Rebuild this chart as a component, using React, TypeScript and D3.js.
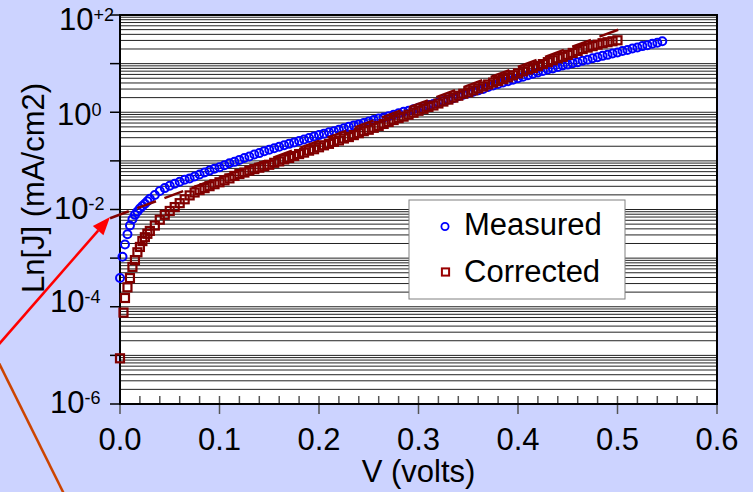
import React from "react";
import * as d3 from "d3";

// Current density vs bias; values are [V (volts), log10 J (mA/cm2)]
const measured: [number, number][] = [
  [0, -3.41], [0.0025, -2.97], [0.005, -2.72], [0.0075, -2.51], [0.01, -2.33], [0.0125, -2.2],
  [0.015, -2.11], [0.0175, -2.04], [0.02, -1.98], [0.0225, -1.93], [0.025, -1.88], [0.0275, -1.83],
  [0.03, -1.78], [0.035, -1.7], [0.04, -1.62], [0.045, -1.56], [0.05, -1.51], [0.055, -1.47],
  [0.06, -1.43], [0.065, -1.39], [0.07, -1.36], [0.075, -1.32], [0.08, -1.28], [0.085, -1.24],
  [0.09, -1.2], [0.095, -1.16], [0.1, -1.13], [0.105, -1.09], [0.11, -1.05], [0.115, -1.02],
  [0.12, -0.98], [0.125, -0.94], [0.13, -0.91], [0.135, -0.87], [0.14, -0.84], [0.145, -0.8],
  [0.15, -0.77], [0.155, -0.74], [0.16, -0.71], [0.165, -0.68], [0.17, -0.65], [0.175, -0.62],
  [0.18, -0.59], [0.185, -0.56], [0.19, -0.53], [0.195, -0.5], [0.2, -0.47], [0.205, -0.44],
  [0.21, -0.41], [0.215, -0.39], [0.22, -0.36], [0.225, -0.33], [0.23, -0.3], [0.235, -0.27],
  [0.24, -0.25], [0.245, -0.22], [0.25, -0.19], [0.255, -0.16], [0.26, -0.13], [0.265, -0.11],
  [0.27, -0.08], [0.275, -0.05], [0.28, -0.02], [0.285, 0.01], [0.29, 0.03], [0.295, 0.06],
  [0.3, 0.09], [0.305, 0.12], [0.31, 0.15], [0.315, 0.17], [0.32, 0.2], [0.325, 0.23],
  [0.33, 0.26], [0.335, 0.29], [0.34, 0.33], [0.345, 0.36], [0.35, 0.39], [0.355, 0.42],
  [0.36, 0.45], [0.365, 0.48], [0.37, 0.52], [0.375, 0.55], [0.38, 0.58], [0.385, 0.61],
  [0.39, 0.64], [0.395, 0.67], [0.4, 0.7], [0.405, 0.73], [0.41, 0.76], [0.415, 0.79],
  [0.42, 0.82], [0.425, 0.85], [0.43, 0.88], [0.435, 0.9], [0.44, 0.93], [0.445, 0.96],
  [0.45, 0.98], [0.455, 1.01], [0.46, 1.03], [0.465, 1.06], [0.47, 1.08], [0.475, 1.11],
  [0.48, 1.13], [0.485, 1.16], [0.49, 1.18], [0.495, 1.21], [0.5, 1.23], [0.505, 1.26],
  [0.51, 1.28], [0.515, 1.31], [0.52, 1.33], [0.525, 1.36], [0.53, 1.38], [0.535, 1.41],
  [0.54, 1.43], [0.545, 1.46],
];

const corrected: [number, number][] = [
  [0, -5.06], [0.0035, -4.12], [0.005, -3.82], [0.0075, -3.6], [0.01, -3.41], [0.0125, -3.18],
  [0.015, -3.04], [0.0175, -2.88], [0.02, -2.77], [0.0225, -2.65], [0.025, -2.57], [0.0275, -2.5],
  [0.03, -2.44], [0.035, -2.33], [0.04, -2.21], [0.045, -2.11], [0.05, -2.03], [0.055, -1.95],
  [0.06, -1.87], [0.065, -1.79], [0.07, -1.71], [0.075, -1.65], [0.08, -1.6], [0.085, -1.56],
  [0.09, -1.52], [0.095, -1.48], [0.1, -1.44], [0.105, -1.4], [0.11, -1.36], [0.115, -1.31],
  [0.12, -1.27], [0.125, -1.24], [0.13, -1.2], [0.135, -1.17], [0.14, -1.14], [0.145, -1.11],
  [0.15, -1.08], [0.155, -1.04], [0.16, -1.01], [0.165, -0.97], [0.17, -0.94], [0.175, -0.9],
  [0.18, -0.86], [0.185, -0.83], [0.19, -0.79], [0.195, -0.76], [0.2, -0.72], [0.205, -0.68],
  [0.21, -0.65], [0.215, -0.61], [0.22, -0.58], [0.225, -0.54], [0.23, -0.51], [0.235, -0.47],
  [0.24, -0.43], [0.245, -0.39], [0.25, -0.36], [0.255, -0.32], [0.26, -0.28], [0.265, -0.24],
  [0.27, -0.2], [0.275, -0.16], [0.28, -0.12], [0.285, -0.09], [0.29, -0.05], [0.295, -0.01],
  [0.3, 0.03], [0.305, 0.07], [0.31, 0.11], [0.315, 0.14], [0.32, 0.18], [0.325, 0.22],
  [0.33, 0.26], [0.335, 0.3], [0.34, 0.34], [0.345, 0.38], [0.35, 0.41], [0.355, 0.45],
  [0.36, 0.49], [0.365, 0.53], [0.37, 0.57], [0.375, 0.61], [0.38, 0.64], [0.385, 0.68],
  [0.39, 0.72], [0.395, 0.76], [0.4, 0.8], [0.405, 0.84], [0.41, 0.88], [0.415, 0.91],
  [0.42, 0.95], [0.425, 0.99], [0.43, 1.03], [0.435, 1.07], [0.44, 1.11], [0.445, 1.14],
  [0.45, 1.18], [0.455, 1.22], [0.46, 1.26], [0.465, 1.3], [0.47, 1.33], [0.475, 1.36],
  [0.48, 1.39], [0.485, 1.42], [0.49, 1.44], [0.495, 1.46], [0.5, 1.48],
];

// Straight-line diode fit (exponential in J), endpoints [V, log10 J]
const fitLine: [number, number][] = [
  [-0.01, -2.18],
  [0.505, 1.73],
];

const xMajorTicks = [0, 0.1, 0.2, 0.3, 0.4, 0.5, 0.6];
const yDecades = [-6, -5, -4, -3, -2, -1, 0, 1, 2];
const yLabelDecades = [2, 0, -2, -4, -6];
const yLabelExponents = ["+2", "0", "-2", "-4", "-6"];
const seriesNames = ["Measured", "Corrected"];

// hand placement of the decade labels (start x, baseline offset from tick)
const yLabelStartX = [59, 57, 54, 50, 50];
const yLabelBaselineOffset = [15, 13, 9, 5, 9];

const W = 753;
const H = 492;
const BG = "#ccd3ff";
const BLUE = "#0000ff";
const DARKRED = "#800000";
const FONT = "'Liberation Sans', Arial, Helvetica, sans-serif";

export default function App() {
  const x = d3.scaleLinear().domain([0, 0.6]).range([120, 717]);
  const y = d3.scaleLog().domain([1e-6, 1e2]).range([404, 15]);
  const [x0, x1] = x.range();
  const [yb, yt] = y.range();

  const gridValues: number[] = [];
  yDecades.forEach((d) => {
    if (d === 2) {
      gridValues.push(100);
      return;
    }
    for (let k = 1; k <= 9; k++) gridValues.push(k * Math.pow(10, d));
  });

  const xMinorTicks = x.ticks(30).filter((t) => !xMajorTicks.some((m) => Math.abs(m - t) < 1e-9));

  const lineGen = d3
    .line<[number, number]>()
    .x((d) => x(d[0]))
    .y((d) => y(Math.pow(10, d[1])));

  // annotation arrows coming in from the left margin
  const vertex = [-7, 351];
  const tip = [110, 217];
  const ang = Math.atan2(tip[1] - vertex[1], tip[0] - vertex[0]);
  const headLen = 18;
  const headHalf = 7;
  const baseX = tip[0] - headLen * Math.cos(ang);
  const baseY = tip[1] - headLen * Math.sin(ang);
  const head = [
    [tip[0], tip[1]],
    [baseX + headHalf * Math.sin(ang), baseY - headHalf * Math.cos(ang)],
    [baseX - headHalf * Math.sin(ang), baseY + headHalf * Math.cos(ang)],
  ]
    .map((p) => p.join(","))
    .join(" ");

  const circleR = 4;
  const sq = 8;

  return (
    <svg
      width={W}
      height={H}
      viewBox={`0 0 ${W} ${H}`}
      style={{ position: "absolute", left: 0, top: 0, display: "block" }}
      fontFamily={FONT}
    >
      <rect x={0} y={0} width={W} height={H} fill={BG} />
      <rect x={x0} y={yt} width={x1 - x0} height={yb - yt} fill="#ffffff" />

      {/* horizontal grid at every log minor step */}
      <g stroke="#222" strokeWidth={1}>
        {gridValues.map((v, i) => (
          <line key={i} x1={x0} x2={x1} y1={y(v)} y2={y(v)} />
        ))}
      </g>

      {/* y ticks at each decade */}
      <g stroke="#000" strokeWidth={1.5}>
        {yDecades.map((d) => (
          <line key={d} x1={x0 - 10} x2={x0} y1={y(Math.pow(10, d))} y2={y(Math.pow(10, d))} />
        ))}
      </g>

      {/* x ticks */}
      <g stroke="#555" strokeWidth={1.5}>
        {xMinorTicks.map((t, i) => (
          <line key={i} x1={x(t)} x2={x(t)} y1={yb - 8} y2={yb} />
        ))}
        {xMajorTicks.map((t) => (
          <line key={t} x1={x(t)} x2={x(t)} y1={yb - 8} y2={yb + 10} />
        ))}
      </g>

      {/* frame */}
      <rect x={x0} y={yt} width={x1 - x0} height={yb - yt} fill="none" stroke="#000" strokeWidth={2} />

      {/* measured */}
      <g fill="none" stroke={BLUE} strokeWidth={2}>
        {measured.map((d, i) => (
          <circle key={i} cx={x(d[0])} cy={y(Math.pow(10, d[1]))} r={circleR} />
        ))}
      </g>

      {/* corrected */}
      <g fill="none" stroke={DARKRED} strokeWidth={2.2}>
        {corrected.map((d, i) => (
          <rect key={i} x={x(d[0]) - sq / 2} y={y(Math.pow(10, d[1])) - sq / 2} width={sq} height={sq} />
        ))}
      </g>

      {/* fit */}
      <path d={lineGen(fitLine) || ""} fill="none" stroke={DARKRED} strokeWidth={2.5} strokeDasharray="20 9" />

      {/* legend */}
      <rect x={409} y={200} width={216} height={99} fill="#fff" stroke="#808080" strokeWidth={1} />
      <circle cx={445} cy={226.5} r={3.6} fill="none" stroke={BLUE} strokeWidth={1.8} />
      <text x={464} y={235} fontSize={31} fill="#000">
        {seriesNames[0]}
      </text>
      <rect x={445.5 - 3.6} y={272 - 3.6} width={7.2} height={7.2} fill="#fff" stroke="#990000" strokeWidth={2} />
      <text x={464} y={282} fontSize={31} fill="#000">
        {seriesNames[1]}
      </text>

      {/* y tick labels */}
      {yLabelDecades.map((d, i) => {
        const ty = y(Math.pow(10, d));
        return (
          <text key={d} x={yLabelStartX[i]} y={ty + yLabelBaselineOffset[i]} fontSize={31} fill="#000">
            <tspan>10</tspan>
            <tspan fontSize={18} dy={-9}>
              {yLabelExponents[i]}
            </tspan>
          </text>
        );
      })}

      {/* x tick labels */}
      {xMajorTicks.map((t) => (
        <text key={t} x={x(t)} y={450} fontSize={31} textAnchor="middle" fill="#000">
          {d3.format(".1f")(t)}
        </text>
      ))}

      {/* axis titles */}
      <text x={x(0.3)} y={482} fontSize={31} textAnchor="middle" fill="#000">
        V (volts)
      </text>
      <text transform="translate(44,188) rotate(-90)" fontSize={31} textAnchor="middle" fill="#000">
        Ln[J] (mA/cm2)
      </text>

      {/* arrows */}
      <line x1={vertex[0]} y1={vertex[1]} x2={70} y2={506} stroke="#cc4400" strokeWidth={2.5} />
      <line x1={vertex[0]} y1={vertex[1]} x2={baseX} y2={baseY} stroke="#ff0000" strokeWidth={2.5} />
      <polygon points={head} fill="#ff0000" />
    </svg>
  );
}
